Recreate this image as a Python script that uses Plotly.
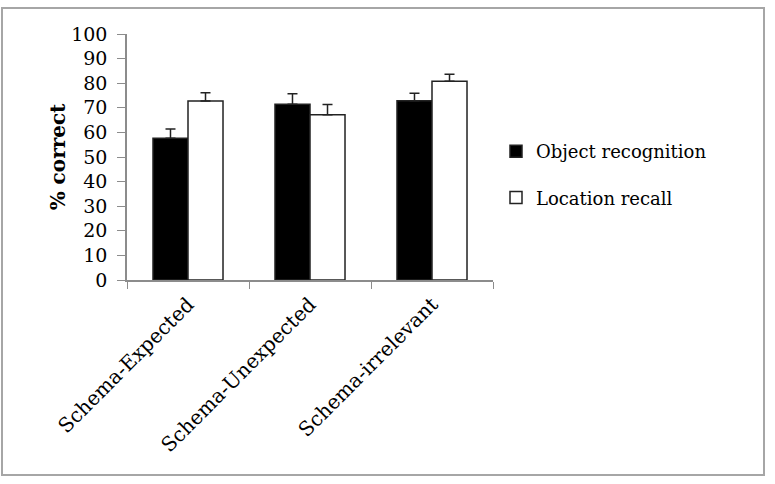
import plotly.graph_objects as go

categories = ["Schema-Expected", "Schema-Unexpected", "Schema-irrelevant"]
object_recognition = [57.6, 71.4, 72.9]
object_recognition_err = [3.8, 4.3, 3.0]
location_recall = [72.8, 67.2, 80.8]
location_recall_err = [3.3, 4.1, 2.8]
y_ticks = [0, 10, 20, 30, 40, 50, 60, 70, 80, 90, 100]

FONT = "DejaVu Serif"

fig = go.Figure()
fig.add_trace(go.Bar(
    x=categories, y=object_recognition, name="Object recognition",
    marker=dict(color="black", line=dict(color="#222222", width=1.5)),
    error_y=dict(type="data", array=object_recognition_err, symmetric=False,
                 arrayminus=[0, 0, 0], color="#222222", thickness=1.5, width=5),
    legendgroup="a",
))
fig.add_trace(go.Bar(
    x=categories, y=location_recall, name="Location recall",
    marker=dict(color="white", line=dict(color="#222222", width=1.5)),
    error_y=dict(type="data", array=location_recall_err, symmetric=False,
                 arrayminus=[0, 0, 0], color="#222222", thickness=1.5, width=5),
    legendgroup="b",
))

W, H = 775, 484
L, R, T, B = 127, 493, 34, 280
pw, ph = R - L, B - T

fig.update_layout(
    width=W, height=H,
    margin=dict(l=L, r=W - R, t=T, b=H - B, autoexpand=False),
    paper_bgcolor="white", plot_bgcolor="white",
    barmode="group", bargap=0.426, bargroupgap=0,
    font=dict(family=FONT, color="black", size=19),
    showlegend=True,
    legend=dict(
        x=(496 - L) / pw, xref="paper", xanchor="left",
        y=(B - 133) / ph, yref="paper", yanchor="top",
        font=dict(family=FONT, size=18, color="black"),
        traceorder="grouped", tracegroupgap=20,
        bgcolor="rgba(0,0,0,0)", itemwidth=30,
    ),
    xaxis=dict(
        showline=True, linecolor="#8c8c8c", linewidth=1.5,
        ticks="outside", tickson="boundaries", ticklen=7, tickcolor="#8c8c8c",
        tickangle=-45, tickfont=dict(family=FONT, size=20, color="black"),
        ticklabelstandoff=3,
        showgrid=False,
    ),
    yaxis=dict(
        range=[0, 100], tickvals=y_ticks,
        showline=True, linecolor="#8c8c8c", linewidth=1.5,
        ticks="outside", ticklen=8, tickcolor="#8c8c8c",
        tickfont=dict(family=FONT, size=19, color="black"),
        ticklabelstandoff=6,
        showgrid=False, zeroline=False,
        title=dict(text="<b>% correct</b>", font=dict(family=FONT, size=20, color="black"),
                   standoff=0),
    ),
)

# outer chart border
fig.add_shape(type="rect", xref="paper", yref="paper",
              x0=(2 - L) / pw, x1=(764 - L) / pw,
              y0=(B - 475) / ph, y1=(B - 8) / ph,
              line=dict(color="#a6a6a6", width=2), layer="below")

fig.write_html("out.html")
